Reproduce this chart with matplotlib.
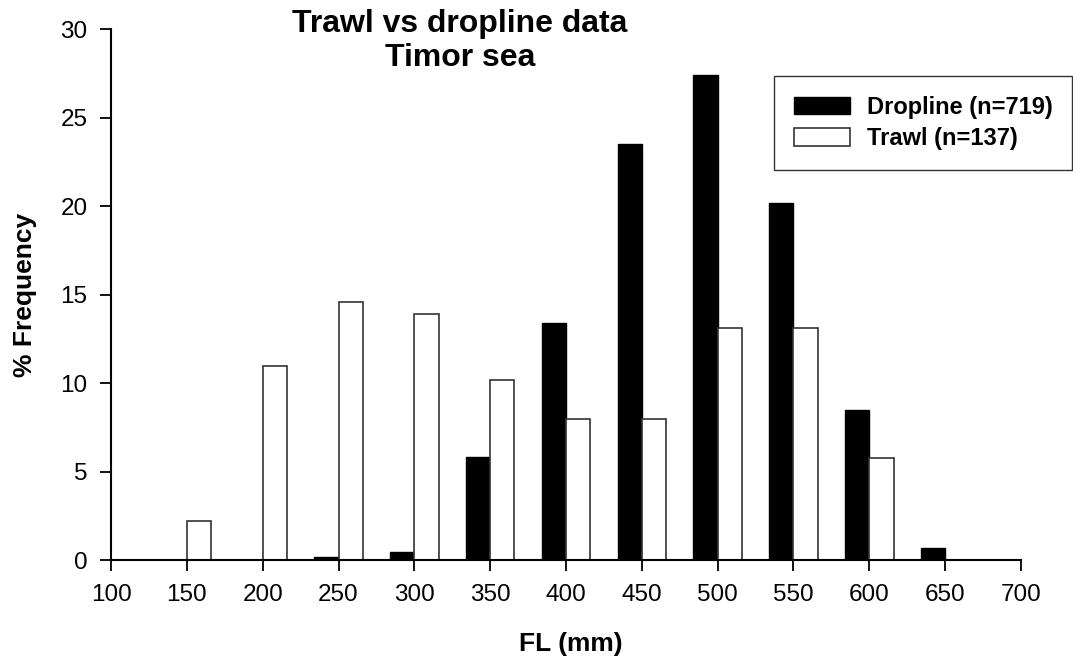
import matplotlib.pyplot as plt
import numpy as np

plt.rcParams["font.family"] = ["Liberation Sans", "DejaVu Sans"]

# length classes (mm) and % frequency per gear
fl_classes = [150, 200, 250, 300, 350, 400, 450, 500, 550, 600, 650]
dropline = [0.0, 0.0, 0.15, 0.45, 5.85, 13.4, 23.5, 27.4, 20.2, 8.5, 0.7]
trawl = [2.2, 10.95, 14.6, 13.9, 10.2, 8.0, 8.0, 13.1, 13.1, 5.8, 0.0]
x_ticks = list(range(100, 701, 50))
y_ticks = list(range(0, 31, 5))

fig = plt.figure(figsize=(10.73, 6.59), dpi=100)
ax = fig.add_axes([0.1035, 0.150, 0.848, 0.8055])

w = 16
x = np.array(fl_classes)
ax.bar(x - w, dropline, width=w, align="edge", color="black", edgecolor="black",
       linewidth=1.0, label="Dropline (n=719)")
ax.bar(x, trawl, width=w, align="edge", color="white", edgecolor="#333333",
       linewidth=1.2, label="Trawl (n=137)")

ax.set_xlim(100, 700)
ax.set_ylim(0, 30)
ax.set_xticks(x_ticks)
ax.set_yticks(y_ticks)
ax.spines["top"].set_visible(False)
ax.spines["right"].set_visible(False)
ax.spines["left"].set_linewidth(1.5)
ax.spines["bottom"].set_linewidth(1.5)
ax.tick_params(axis="both", direction="out", length=8, width=1.3, labelsize=17.5)
ax.tick_params(axis="x", pad=9)
ax.tick_params(axis="y", pad=9)

ax.set_xlabel("FL (mm)", fontsize=19, fontweight="bold")
ax.set_ylabel("% Frequency", fontsize=19, fontweight="bold")
ax.xaxis.set_label_coords(0.5055, -0.158)
ax.xaxis.label.set_va("center")
ax.yaxis.set_label_coords(-0.0945, 0.5)
ax.yaxis.label.set_va("center")

fig.text(0.4287, 0.9514, "Trawl vs dropline data", ha="center", va="baseline",
         fontsize=23, fontweight="bold")
fig.text(0.4287, 0.8998, "Timor sea", ha="center", va="baseline",
         fontsize=23, fontweight="bold")

leg = fig.legend(loc="upper left", bbox_to_anchor=(0.7213, 0.8847),
                 frameon=True, fancybox=False, edgecolor="black",
                 prop={"weight": "bold", "size": 17}, handlelength=2.4,
                 handleheight=0.76, handletextpad=0.68, labelspacing=0.35,
                 borderpad=0.84, borderaxespad=0)
leg.get_frame().set_linewidth(1.0)

fig.savefig("out.png", dpi=100)
